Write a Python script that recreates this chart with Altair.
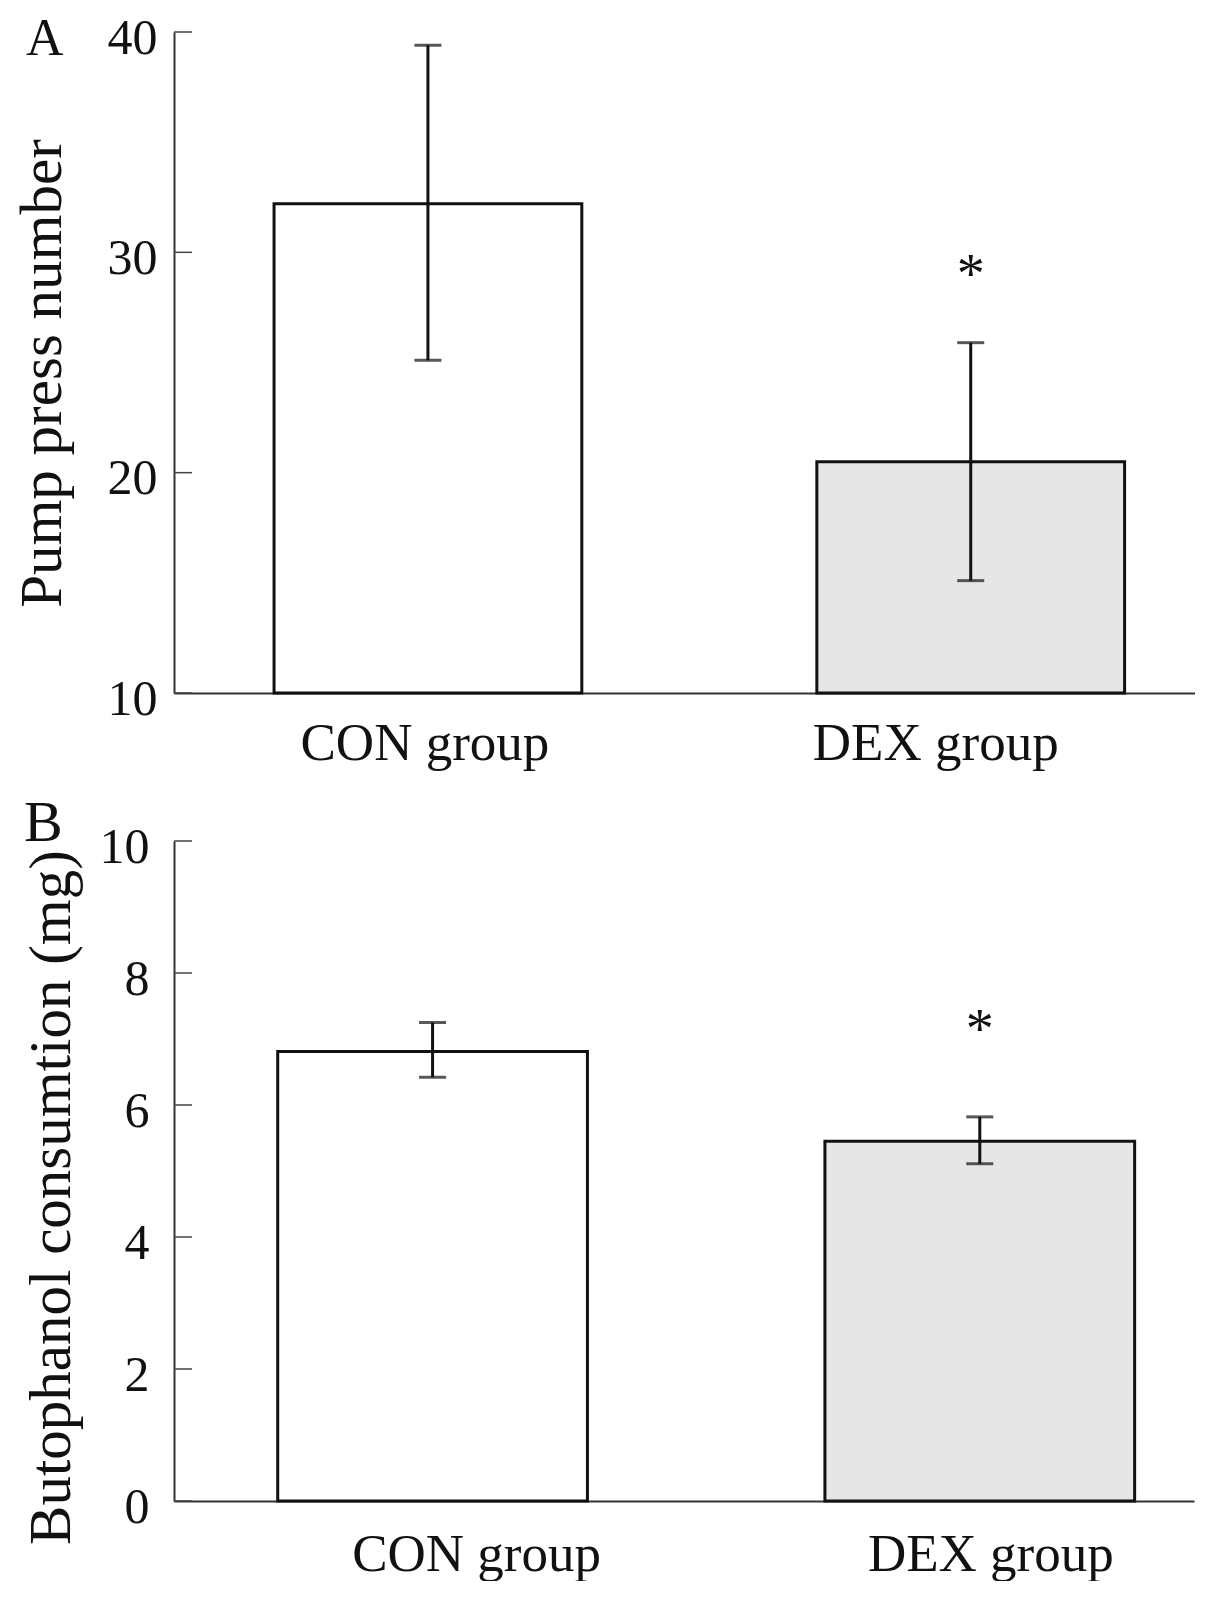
import pandas as pd
import altair as alt

groups = ["CON group", "DEX group"]

# A: pump press number (mean, error bar ends)
press_mean = [32.2, 20.5]
press_lo = [25.1, 15.1]
press_hi = [39.4, 25.9]
press_star = [29.3]
press_ticks = [10, 20, 30, 40]

# B: butophanol consumption (mg)
dose_mean = [6.81, 5.45]
dose_lo = [6.42, 5.11]
dose_hi = [7.25, 5.82]
dose_star = [7.24]
dose_ticks = [0, 2, 4, 6, 8, 10]

FONT = "Liberation Serif"
INK = "#111111"
fills = ["#ffffff", "#e6e6e6"]


def panel(mean, lo, hi, star, ticks, letter, title, width, height,
          band, x_lab_pad, y_lab_pad, title_pad, title_y, letter_pos, shifts):
    df = pd.DataFrame({"group": groups, "mean": mean, "lo": lo, "hi": hi})
    stars = pd.DataFrame({"group": groups[1:], "star": star})
    tick_df = pd.DataFrame({"t": ticks})

    x_axis = alt.Axis(
        labelAngle=0, ticks=False, tickSize=0, labelFont=FONT, labelFontSize=53,
        labelColor=INK, labelPadding=x_lab_pad, labelLimit=0,
        domainColor="#333333", domainWidth=2,
        labelOffset={"condition": {"test": "datum.value == 'DEX group'", "value": shifts[1]},
                     "value": shifts[0]},
    )
    x = alt.X("group:N", sort=groups, title=None, axis=x_axis,
              scale=alt.Scale(paddingInner=band[0], paddingOuter=band[1], align=band[2]))
    xs = alt.X("group:N", sort=groups, title=None)

    y_scale = alt.Scale(domain=[ticks[0], ticks[-1]], nice=False, zero=False)
    y_axis = alt.Axis(
        values=ticks, format="d", ticks=False, tickSize=0, grid=False, labelFont=FONT,
        labelFontSize=50, labelColor=INK, labelPadding=y_lab_pad, labelOffset=6,
        titleFont=FONT, titleFontSize=59, titleFontWeight="normal", titleColor=INK,
        titlePadding=title_pad, titleY=title_y, domainColor="#333333", domainWidth=2,
    )

    base = alt.Chart(df)
    bars = base.mark_bar(stroke=INK, strokeWidth=3).encode(
        x=x,
        y=alt.Y("mean:Q", scale=y_scale, axis=y_axis, title=title),
        y2=alt.datum(ticks[0]),
        fill=alt.Fill("group:N", scale=alt.Scale(domain=groups, range=fills), legend=None),
    )
    err = base.mark_rule(color=INK, strokeWidth=3).encode(
        x=xs, y=alt.Y("lo:Q", title=title), y2="hi:Q"
    )
    cap_lo = base.mark_tick(color=INK, size=27, thickness=3).encode(
        x=xs, y=alt.Y("lo:Q", title=title)
    )
    cap_hi = base.mark_tick(color=INK, size=27, thickness=3).encode(
        x=xs, y=alt.Y("hi:Q", title=title)
    )
    # inward ticks on the y axis
    yticks = alt.Chart(tick_df).mark_rule(color="#444444", strokeWidth=1.5).encode(
        x=alt.value(0), x2=alt.value(18), y=alt.Y("t:Q", title=title)
    )
    star_txt = alt.Chart(stars).mark_text(
        text="*", font=FONT, fontSize=56, color=INK, baseline="middle", dy=8
    ).encode(x=xs, y=alt.Y("star:Q", title=title))
    tag = alt.Chart(pd.DataFrame({"label": [letter]})).mark_text(
        font=FONT, fontSize=letter_pos[2], color=INK, align="left", baseline="alphabetic"
    ).encode(x=alt.value(letter_pos[0]), y=alt.value(letter_pos[1]), text="label:N")

    return alt.layer(bars, err, cap_lo, cap_hi, yticks, star_txt, tag).properties(
        width=width, height=height
    )


top = panel(press_mean, press_lo, press_hi, press_star, press_ticks, "A",
            "Pump press number", 1021, 661, (0.433, 0.157, 0.587),
            24, 17, 35, 341, (-148, 23, 52), (-3, -35))
bottom = panel(dose_mean, dose_lo, dose_hi, dose_star, dose_ticks, "B",
               "Butophanol consumtion (mg)", 1020, 660, (0.434, 0.149, 0.636),
               27, 25, 18, 356, (-150, 0, 58), (44, 11))

chart = alt.concat(top, bottom, columns=1, align="none", spacing=25).configure_view(
    strokeWidth=0
).properties(padding={"left": 5, "top": 5, "right": 0, "bottom": 0})

chart.save("out.html", embed_options={"renderer": "svg", "actions": False})
